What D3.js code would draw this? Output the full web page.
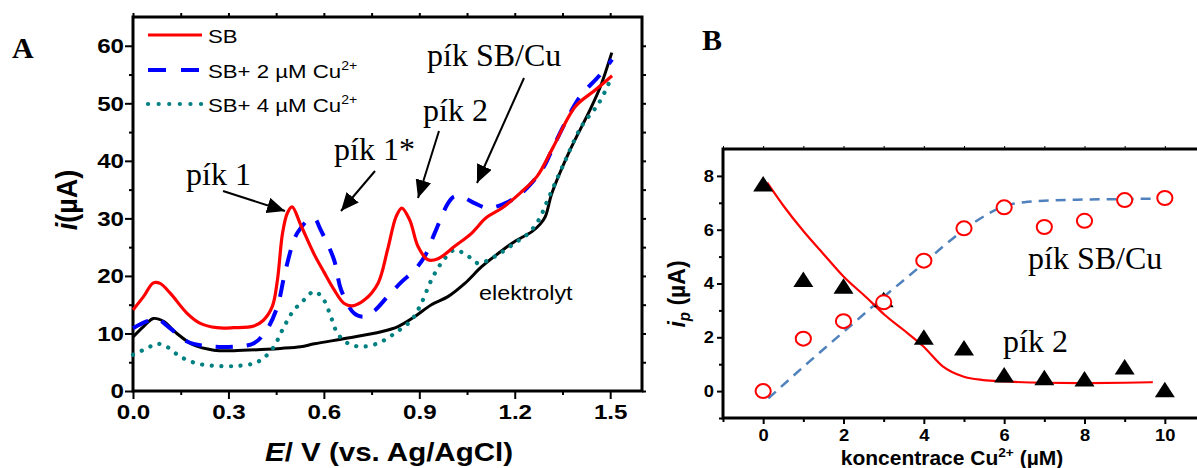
<!DOCTYPE html>
<html>
<head>
<meta charset="utf-8">
<script src="https://cdn.jsdelivr.net/npm/d3@7"></script>
<style>
  body { margin: 0; background: #fff; }
  svg { display: block; }
</style>
</head>
<body>
<svg id="fig" width="1197" height="468"></svg>
<script>
// ---- Panel A: differential pulse voltammograms, [E (V), i (µA)] ----
const curveSB = [[0,14.1],[0.033,16.4],[0.064,18.8],[0.085,18.7],[0.117,17.0],[0.17,13.5],[0.21,11.8],[0.264,11.0],[0.317,11.0],[0.38,11.3],[0.41,12.3],[0.438,14.7],[0.454,19.3],[0.47,27.4],[0.485,30.9],[0.50,32.0],[0.527,28.9],[0.57,23.7],[0.60,20.7],[0.632,17.6],[0.664,15.2],[0.69,14.8],[0.727,15.8],[0.77,18.7],[0.80,24.5],[0.827,30.3],[0.845,31.8],[0.87,29.7],[0.896,25.1],[0.927,22.8],[0.959,23.0],[1.01,25.1],[1.064,27.4],[1.11,30.1],[1.16,31.8],[1.217,34.4],[1.27,37.3],[1.32,42.3],[1.39,49.4],[1.453,52.3],[1.506,54.8]];
const curveCu2 = [[0,10.9],[0.043,12.1],[0.075,12.5],[0.117,10.9],[0.17,8.6],[0.233,7.8],[0.317,7.7],[0.38,8.3],[0.42,10.6],[0.454,14.7],[0.475,19.9],[0.496,24.5],[0.51,26.8],[0.527,28.3],[0.55,29.7],[0.57,30.0],[0.59,28.0],[0.632,22.8],[0.654,17.6],[0.695,13.5],[0.727,12.9],[0.76,14.0],[0.8,16.4],[0.845,19.0],[0.885,21.0],[0.918,23.5],[0.948,27.4],[0.99,32.6],[1.01,33.8],[1.04,33.6],[1.075,32.6],[1.117,31.8],[1.18,32.9],[1.222,34.4],[1.285,38.4],[1.327,43.1],[1.38,48.9],[1.41,51.5],[1.464,54.7],[1.506,57.6]];
const curveCu4 = [[0,6.3],[0.043,7.4],[0.075,8.2],[0.106,7.7],[0.148,6.0],[0.2,4.8],[0.264,4.35],[0.327,4.35],[0.38,4.8],[0.41,5.7],[0.443,7.7],[0.464,10.0],[0.475,11.2],[0.506,14.1],[0.527,15.2],[0.57,17.3],[0.6,15.8],[0.622,12.9],[0.643,10.0],[0.675,8.3],[0.717,7.7],[0.77,8.3],[0.822,10.0],[0.875,12.3],[0.906,15.2],[0.938,19.3],[0.969,22.2],[1.01,24.5],[1.054,23.4],[1.085,22.2],[1.138,23.4],[1.2,25.7],[1.243,27.4],[1.275,29.7],[1.306,33.5],[1.36,40.2],[1.41,46.0],[1.464,50.0],[1.496,53.5]];
const curveElektrolyt = [[0,9.4],[0.033,11.2],[0.064,12.6],[0.096,12.1],[0.138,10.0],[0.19,8.0],[0.254,7.1],[0.317,7.0],[0.42,7.25],[0.464,7.4],[0.527,7.7],[0.57,8.2],[0.675,9.2],[0.78,10.3],[0.833,11.2],[0.885,12.9],[0.938,15.0],[0.99,16.4],[1.043,18.7],[1.096,21.6],[1.148,23.9],[1.2,26.0],[1.254,27.7],[1.28,29.0],[1.296,30.3],[1.317,34.4],[1.374,41.9],[1.437,48.9],[1.47,53.0],[1.505,58.8]];

const legendLabels = ["SB", "SB+ 2 µM Cu", "SB+ 4 µM Cu"];
const xTicksA = [0, 0.3, 0.6, 0.9, 1.2, 1.5];
const yTicksA = [0, 10, 20, 30, 40, 50, 60];

// ---- Panel B: peak current vs. Cu2+ concentration ----
const conc = [0, 1, 2, 3, 4, 5, 6, 7, 8, 9, 10];
const ipPik2 = [7.7, 4.15, 3.9, 3.4, 2.0, 1.6, 0.6, 0.5, 0.45, 0.9, 0.05];
const ipPikSBCu = [0.0, 1.95, 2.6, 3.3, 4.85, 6.05, 6.83, 6.1, 6.33, 7.1, 7.18];
const fitPik2 = [[0.1,7.75],[0.5,6.9],[1,5.95],[1.5,5.1],[2,4.26],[2.58,3.47],[3.02,2.84],[3.49,2.28],[3.99,1.66],[4.48,0.91],[4.98,0.54],[5.48,0.41],[6,0.36],[7,0.31],[8,0.3],[9,0.31],[9.7,0.33]];
const fitPikSBCu = [[0.13,-0.27],[1,0.9],[2,2.2],[3,3.5],[4,4.75],[4.5,5.4],[5,6.0],[5.5,6.5],[6,6.88],[6.5,7.02],[7,7.08],[8,7.12],[9,7.14],[10,7.16]];
const xTicksB = [0, 2, 4, 6, 8, 10];
const yTicksB = [0, 2, 4, 6, 8];

const SANS = "'Liberation Sans', Arial, Helvetica, sans-serif";
const SERIF = "'Liberation Serif', 'Times New Roman', serif";
const svg = d3.select("#fig");

// widen sans-serif labels horizontally
function widen(sel, k) {
  sel.each(function () {
    const t = d3.select(this);
    const x = +t.attr("x") || 0, y = +t.attr("y") || 0;
    const rest = t.attr("data-rot") ? ` rotate(${t.attr("data-rot")})` : "";
    t.attr("x", 0).attr("y", 0).attr("transform", `translate(${x},${y}) scale(${k},1)${rest}`);
  });
}

function styleAxis(g, size, k) {
  g.select(".domain").remove();
  g.selectAll(".tick line").attr("stroke", "#000").attr("stroke-width", 2);
  g.selectAll(".tick text").attr("fill", "#000").attr("font-family", SANS)
    .attr("font-weight", "bold").attr("font-size", size);
  if (k) widen(g.selectAll(".tick text"), k);
}

// ================= Panel A =================
const xA = d3.scaleLinear().domain([0, 1.6]).range([133, 642]);
const yA = d3.scaleLinear().domain([0, 65]).range([391, 17]);
const gA = svg.append("g");

const minorXA = d3.range(0.15, 1.6, 0.3);
const minorYA = d3.range(5, 65, 10);

gA.append("g").attr("transform", `translate(0,${yA(0)})`)
  .call(d3.axisBottom(xA).tickValues(xTicksA).tickSize(8).tickPadding(5).tickFormat(d3.format(".1f")))
  .call(g => styleAxis(g, 21, 1.15));
gA.append("g").attr("transform", `translate(0,${yA(0)})`)
  .call(d3.axisBottom(xA).tickValues(minorXA).tickSize(4).tickFormat(""))
  .call(g => styleAxis(g, 21));
gA.append("g").attr("transform", `translate(${xA(0)},0)`)
  .call(d3.axisLeft(yA).tickValues(yTicksA).tickSize(8).tickPadding(1))
  .call(g => styleAxis(g, 21, 1.15));
gA.append("g").attr("transform", `translate(${xA(0)},0)`)
  .call(d3.axisLeft(yA).tickValues(minorYA).tickSize(4).tickFormat(""))
  .call(g => styleAxis(g, 21));
gA.append("g").attr("transform", `translate(${xA.range()[1]},0)`)
  .call(d3.axisRight(yA).tickValues(yTicksA.concat(minorYA)).tickSize(4).tickFormat(""))
  .call(g => styleAxis(g, 21));
gA.append("g").attr("transform", `translate(0,${yA(65)})`)
  .call(d3.axisTop(xA).tickValues(xTicksA.concat(minorXA)).tickSize(4).tickFormat(""))
  .call(g => styleAxis(g, 21));

gA.append("rect").attr("x", xA(0)).attr("y", yA(65))
  .attr("width", xA(1.6) - xA(0)).attr("height", yA(0) - yA(65))
  .attr("fill", "none").attr("stroke", "#000").attr("stroke-width", 3);

const lineA = d3.line().x(d => xA(d[0])).y(d => yA(d[1])).curve(d3.curveCatmullRom.alpha(0.5));

gA.append("path").datum(curveElektrolyt).attr("d", lineA)
  .attr("fill", "none").attr("stroke", "#000").attr("stroke-width", 3);
gA.append("path").datum(curveCu4).attr("d", lineA)
  .attr("fill", "none").attr("stroke", "#008080").attr("stroke-width", 4.2)
  .attr("stroke-linecap", "round").attr("stroke-dasharray", "0.1,9.5");
gA.append("path").datum(curveCu2).attr("d", lineA)
  .attr("fill", "none").attr("stroke", "#0000ff").attr("stroke-width", 4)
  .attr("stroke-dasharray", "17,14");
gA.append("path").datum(curveSB).attr("d", lineA)
  .attr("fill", "none").attr("stroke", "#ff0000").attr("stroke-width", 3.2);

// legend
const legendStyles = [
  { stroke: "#ff0000", width: 3.2, dash: null, cap: "butt" },
  { stroke: "#0000ff", width: 4, dash: "18,15", cap: "butt" },
  { stroke: "#008080", width: 4.2, dash: "0.1,10.5", cap: "round" }
];
const legY = [35, 70, 104];
legendLabels.forEach((lab, i) => {
  const s = legendStyles[i];
  gA.append("line").attr("x1", 148).attr("x2", 202).attr("y1", legY[i]).attr("y2", legY[i])
    .attr("stroke", s.stroke).attr("stroke-width", s.width).attr("stroke-linecap", s.cap)
    .attr("stroke-dasharray", s.dash);
  const t = gA.append("text").attr("x", 208).attr("y", legY[i] + 8)
    .attr("font-family", SANS).attr("font-size", 19).attr("fill", "#000").text(lab);
  if (i > 0) t.append("tspan").attr("dy", -8).attr("font-size", 12).text("2+");
  widen(t, 1.17);
});

// axis titles
const xtA = gA.append("text").attr("x", 389).attr("y", 461).attr("text-anchor", "middle")
  .attr("font-family", SANS).attr("font-weight", "bold").attr("font-size", 25);
xtA.append("tspan").attr("font-style", "italic").text("E");
xtA.append("tspan").text("/ V (vs. Ag/AgCl)");
widen(xtA, 1.18);

const ytA = gA.append("text").attr("x", 77).attr("y", 200).attr("data-rot", -90)
  .attr("text-anchor", "middle").attr("font-family", SANS).attr("font-weight", "bold").attr("font-size", 27);
ytA.append("tspan").attr("font-style", "italic").text("i");
ytA.append("tspan").text("(µA)");
widen(ytA, 1.1);

gA.append("text").attr("x", 479).attr("y", 300).attr("font-family", SANS)
  .attr("font-size", 20).attr("fill", "#000").text("elektrolyt")
  .call(t => widen(t, 1.17));

// peak annotations
const annA = [
  { text: "pík 1", x: 186, y: 185 },
  { text: "pík 1*", x: 334, y: 160 },
  { text: "pík 2", x: 423, y: 121 },
  { text: "pík SB/Cu", x: 427, y: 66 }
];
annA.forEach(a => gA.append("text").attr("x", a.x).attr("y", a.y)
  .attr("font-family", SERIF).attr("font-size", 32).attr("fill", "#000").text(a.text));

svg.append("defs").append("marker").attr("id", "head")
  .attr("viewBox", "0 0 18 16").attr("refX", 18).attr("refY", 8)
  .attr("markerWidth", 18).attr("markerHeight", 16).attr("markerUnits", "userSpaceOnUse")
  .attr("orient", "auto")
  .append("path").attr("d", "M0,0 L18,8 L0,16 Z").attr("fill", "#000");

const arrowsA = [
  [223, 191, 285, 211],
  [375, 171, 341, 211],
  [439, 131, 418, 198],
  [524, 78, 477, 183]
];
arrowsA.forEach(a => gA.append("line").attr("x1", a[0]).attr("y1", a[1]).attr("x2", a[2]).attr("y2", a[3])
  .attr("stroke", "#000").attr("stroke-width", 2).attr("marker-end", "url(#head)"));

gA.append("text").attr("x", 12).attr("y", 58).attr("font-family", SERIF)
  .attr("font-weight", "bold").attr("font-size", 30).text("A");

// ================= Panel B =================
const xB = d3.scaleLinear().domain([-1, 11]).range([723, 1205]);
const yB = d3.scaleLinear().domain([-1, 9]).range([418, 149]);
const gB = svg.append("g");

const minorXB = d3.range(-1, 12, 2);
const minorYB = d3.range(-1, 9, 2);

gB.append("g").attr("transform", `translate(0,${yB(-1)})`)
  .call(d3.axisBottom(xB).tickValues(xTicksB).tickSize(6).tickPadding(5))
  .call(g => styleAxis(g, 17, 1.08));
gB.append("g").attr("transform", `translate(0,${yB(-1)})`)
  .call(d3.axisBottom(xB).tickValues(minorXB).tickSize(4).tickFormat(""))
  .call(g => styleAxis(g, 17));
gB.append("g").attr("transform", `translate(${xB(-1)},0)`)
  .call(d3.axisLeft(yB).tickValues(yTicksB).tickSize(6).tickPadding(3))
  .call(g => styleAxis(g, 17, 1.08));
gB.append("g").attr("transform", `translate(${xB(-1)},0)`)
  .call(d3.axisLeft(yB).tickValues(minorYB).tickSize(4).tickFormat(""))
  .call(g => styleAxis(g, 17));
gB.append("g").attr("transform", `translate(0,${yB(9)})`)
  .call(d3.axisTop(xB).tickValues(d3.range(-1, 12, 1)).tickSize(3).tickFormat(""))
  .call(g => { styleAxis(g, 17); g.selectAll(".tick line").attr("stroke-width", 1); });

gB.append("rect").attr("x", xB(-1)).attr("y", yB(9))
  .attr("width", xB(11) - xB(-1)).attr("height", yB(-1) - yB(9))
  .attr("fill", "none").attr("stroke", "#000").attr("stroke-width", 3);

const lineB = d3.line().x(d => xB(d[0])).y(d => yB(d[1])).curve(d3.curveMonotoneX);

gB.append("path").datum(fitPikSBCu).attr("d", lineB)
  .attr("fill", "none").attr("stroke", "#4f81bd").attr("stroke-width", 2.5)
  .attr("stroke-dasharray", "10,7");
gB.append("path").datum(fitPik2).attr("d", lineB)
  .attr("fill", "none").attr("stroke", "#ff0000").attr("stroke-width", 2.2);

gB.selectAll("path.tri").data(conc.map((c, i) => [c, ipPik2[i]])).join("path")
  .attr("class", "tri")
  .attr("transform", d => `translate(${xB(d[0])},${yB(d[1])})`)
  .attr("d", "M0,-8 L10,7.5 L-10,7.5 Z").attr("fill", "#000");

gB.selectAll("ellipse.circ").data(conc.map((c, i) => [c, ipPikSBCu[i]])).join("ellipse")
  .attr("class", "circ")
  .attr("cx", d => xB(d[0])).attr("cy", d => yB(d[1]))
  .attr("rx", 7.6).attr("ry", 7).attr("fill", "#fff")
  .attr("stroke", "#ff0000").attr("stroke-width", 2);

// axis titles
const xtB = gB.append("text").attr("x", 952).attr("y", 465).attr("text-anchor", "middle")
  .attr("font-family", SANS).attr("font-weight", "bold").attr("font-size", 20);
xtB.append("tspan").text("koncentrace Cu");
xtB.append("tspan").attr("dy", -8).attr("font-size", 13).text("2+");
xtB.append("tspan").attr("dy", 8).text(" (µM)");
widen(xtB, 1.05);

const ytB = gB.append("text").attr("x", 685).attr("y", 294).attr("data-rot", -90)
  .attr("text-anchor", "middle").attr("font-family", SANS).attr("font-weight", "bold").attr("font-size", 23);
ytB.append("tspan").attr("font-style", "italic").text("i");
ytB.append("tspan").attr("font-style", "italic").attr("font-size", 15).attr("dy", 5).text("p");
ytB.append("tspan").attr("dy", -5).text(" (µA)");
widen(ytB, 1.05);

gB.append("text").attr("x", 1028).attr("y", 269).attr("font-family", SERIF)
  .attr("font-size", 32).text("pík SB/Cu");
gB.append("text").attr("x", 1003).attr("y", 352).attr("font-family", SERIF)
  .attr("font-size", 32).text("pík 2");

gB.append("text").attr("x", 702).attr("y", 50).attr("font-family", SERIF)
  .attr("font-weight", "bold").attr("font-size", 30).text("B");
</script>
</body>
</html>
